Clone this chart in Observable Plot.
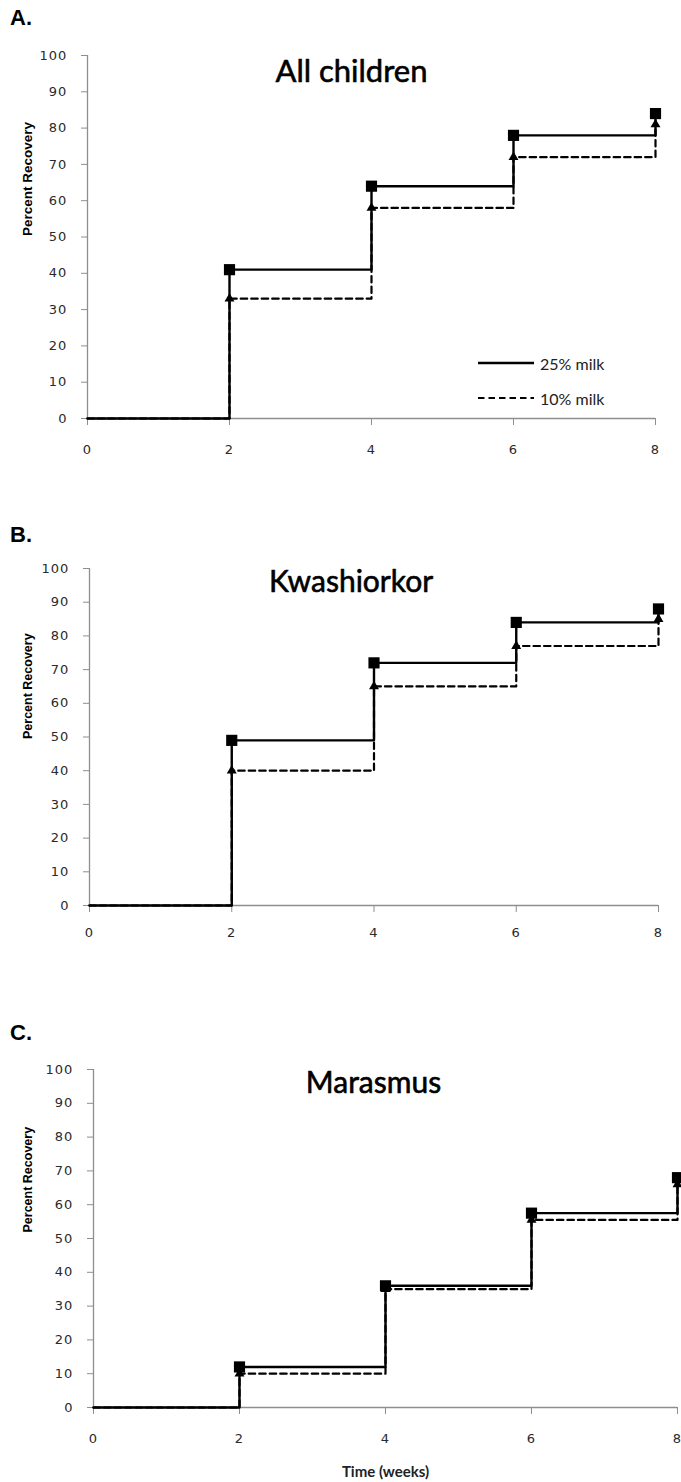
<!DOCTYPE html>
<html>
<head>
<meta charset="utf-8">
<script src="https://cdn.jsdelivr.net/npm/d3@7"></script>
<script src="https://cdn.jsdelivr.net/npm/@observablehq/plot@0.6"></script>
<style>
  body { margin: 0; background: #fff; }
  #root { position: relative; width: 681px; height: 1482px; background: #fff; overflow: hidden; }
  .plabel { position: absolute; left: 10px; font: bold 22px "Liberation Sans", Arial, sans-serif; line-height: 1; color: #000; }
  .panel { position: absolute; left: 0; }
  .legend { position: absolute; font: 16px Lato, sans-serif; color: #222; }
  .legend .row { position: absolute; left: 0; display: flex; align-items: center; white-space: nowrap; }
  .legend svg { display: block; margin-right: 6px; }
  svg [aria-label$="tick label"] text { letter-spacing: 1.1px; }
</style>
</head>
<body>
<div id="root"></div>
<script>
// ---- data ----
const weeks = [0, 2, 4, 6, 8];
const seriesNames = ["25% milk", "10% milk"];
const panelLabels = ["A.", "B.", "C."];
const panelTitles = ["All children", "Kwashiorkor", "Marasmus"];
const allMilk25 = [0, 41, 64, 78, 84];
const allMilk10 = [0, 33, 58, 72, 81];
const kwashMilk25 = [0, 49, 72, 84, 88];
const kwashMilk10 = [0, 40, 65, 77, 85];
const marasMilk25 = [0, 12, 36, 57.5, 68];
const marasMilk10 = [0, 10, 35, 55.5, 66];
const xTicks = [0, 2, 4, 6, 8];
const yTicks = [0, 10, 20, 30, 40, 50, 60, 70, 80, 90, 100];
const yLabel = "Percent Recovery";
const xLabel = "Time (weeks)";

// ---- layout (pixels) ----
const layouts = [
  {top: 40,   labelTop: 7,    ml: 87, mr: 26, plotH: 363, mb: 45, tickPad: 19, tdx: -20, tdy: 17, tSize: 31, ydx: -60, ydy: -1, ySize: 13.5, ySpace: 1, legend: true},
  {top: 553,  labelTop: 524,  ml: 89, mr: 23, plotH: 337, mb: 40, tickPad: 15, tdx: -23, tdy: 14, tSize: 30, ydx: -62, ydy: 2, ySize: 12.5, ySpace: 0.3},
  {top: 1054, labelTop: 1022, ml: 93, mr: 4,  plotH: 338, mb: 74, tickPad: 19, tdx: -12, tdy: 14, tSize: 30, ydx: -66, ydy: -6, ySize: 12.5, ySpace: 0.3, xLabel: true}
];
const series = [[allMilk25, allMilk10], [kwashMilk25, kwashMilk10], [marasMilk25, marasMilk10]];

const root = document.getElementById("root");
const axisGray = "#8e8e8e";

layouts.forEach((L, i) => {
  const lab = document.createElement("div");
  lab.className = "plabel";
  lab.style.top = L.labelTop + "px";
  lab.textContent = panelLabels[i];
  root.appendChild(lab);

  const rows25 = weeks.map((w, k) => ({week: w, v: series[i][0][k]}));
  const rows10 = weeks.map((w, k) => ({week: w, v: series[i][1][k]}));
  const mt = 15;
  const height = mt + L.plotH + L.mb;

  const marks = [
    Plot.ruleX([0], {stroke: axisGray, strokeWidth: 1.3}),
    Plot.ruleY([0], {stroke: axisGray, strokeWidth: 1.3}),
    Plot.axisX({ticks: xTicks, tickSize: 7, tickPadding: L.tickPad, stroke: axisGray, fill: "#2a2a2a", fontSize: 13, label: null, tickFormat: d => String(d)}),
    Plot.axisY({ticks: yTicks, tickSize: 6, tickPadding: 14, stroke: axisGray, fill: "#2a2a2a", fontSize: 13, label: null, tickFormat: d => String(d)}),
    Plot.line(rows10, {x: "week", y: "v", curve: "step-after", stroke: "#000", strokeWidth: 2.2, strokeDasharray: "6.5,4"}),
    Plot.line(rows25, {x: "week", y: "v", curve: "step-after", stroke: "#000", strokeWidth: 2.4}),
    Plot.dot(rows10.filter(d => d.week > 0), {x: "week", y: "v", symbol: "triangle", r: 3.7, fill: "#000", stroke: "none"}),
    Plot.dot(rows25.filter(d => d.week > 0), {x: "week", y: "v", symbol: "square", r: 6.3, fill: "#000", stroke: "none"}),
    Plot.text([panelTitles[i]], {frameAnchor: "top", lineAnchor: "middle", dx: L.tdx, dy: L.tdy, fontSize: L.tSize, fontFamily: "Lato, sans-serif", fill: "#000", stroke: "#000", strokeWidth: 0.6, letterSpacing: 1.1}),
    Plot.text([yLabel], {frameAnchor: "left", rotate: -90, dx: L.ydx, dy: L.ydy, fontSize: L.ySize, fontWeight: "bold", fontFamily: "Liberation Sans, Arial, sans-serif", fill: "#000", letterSpacing: L.ySpace})
  ];
  if (L.xLabel) {
    marks.push(Plot.text([xLabel], {frameAnchor: "bottom", lineAnchor: "middle", dy: 65, fontSize: 15, fontWeight: "bold", fontFamily: "Lato, sans-serif", fill: "#222"}));
  }

  const chart = Plot.plot({
    width: 681,
    height,
    marginTop: mt,
    marginBottom: L.mb,
    marginLeft: L.ml,
    marginRight: L.mr,
    x: {domain: [0, 8], label: null},
    y: {domain: [0, 100], label: null},
    style: {fontFamily: "DejaVu Sans, sans-serif", fontSize: "13px", background: "transparent", overflow: "visible", color: "#222"},
    marks
  });
  const holder = document.createElement("div");
  holder.className = "panel";
  holder.style.top = L.top + "px";
  holder.appendChild(chart);
  root.appendChild(holder);

  if (L.legend) {
    const leg = document.createElement("div");
    leg.className = "legend";
    leg.style.left = "478px";
    leg.style.top = "0px";
    const ys = [363, 398];
    seriesNames.forEach((name, k) => {
      const row = document.createElement("div");
      row.className = "row";
      row.style.top = (ys[k] - 11) + "px";
      row.style.height = "22px";
      const s = d3.create("svg").attr("width", 56).attr("height", 6);
      s.append("line").attr("x1", 0).attr("x2", 56).attr("y1", 3).attr("y2", 3)
        .attr("stroke", "#000").attr("stroke-width", k === 0 ? 2.4 : 2.2)
        .attr("stroke-dasharray", k === 0 ? null : "6.5,4");
      row.appendChild(s.node());
      const t = document.createElement("span");
      t.textContent = name;
      row.appendChild(t);
      leg.appendChild(row);
    });
    root.appendChild(leg);
  }
});
</script>
</body>
</html>
